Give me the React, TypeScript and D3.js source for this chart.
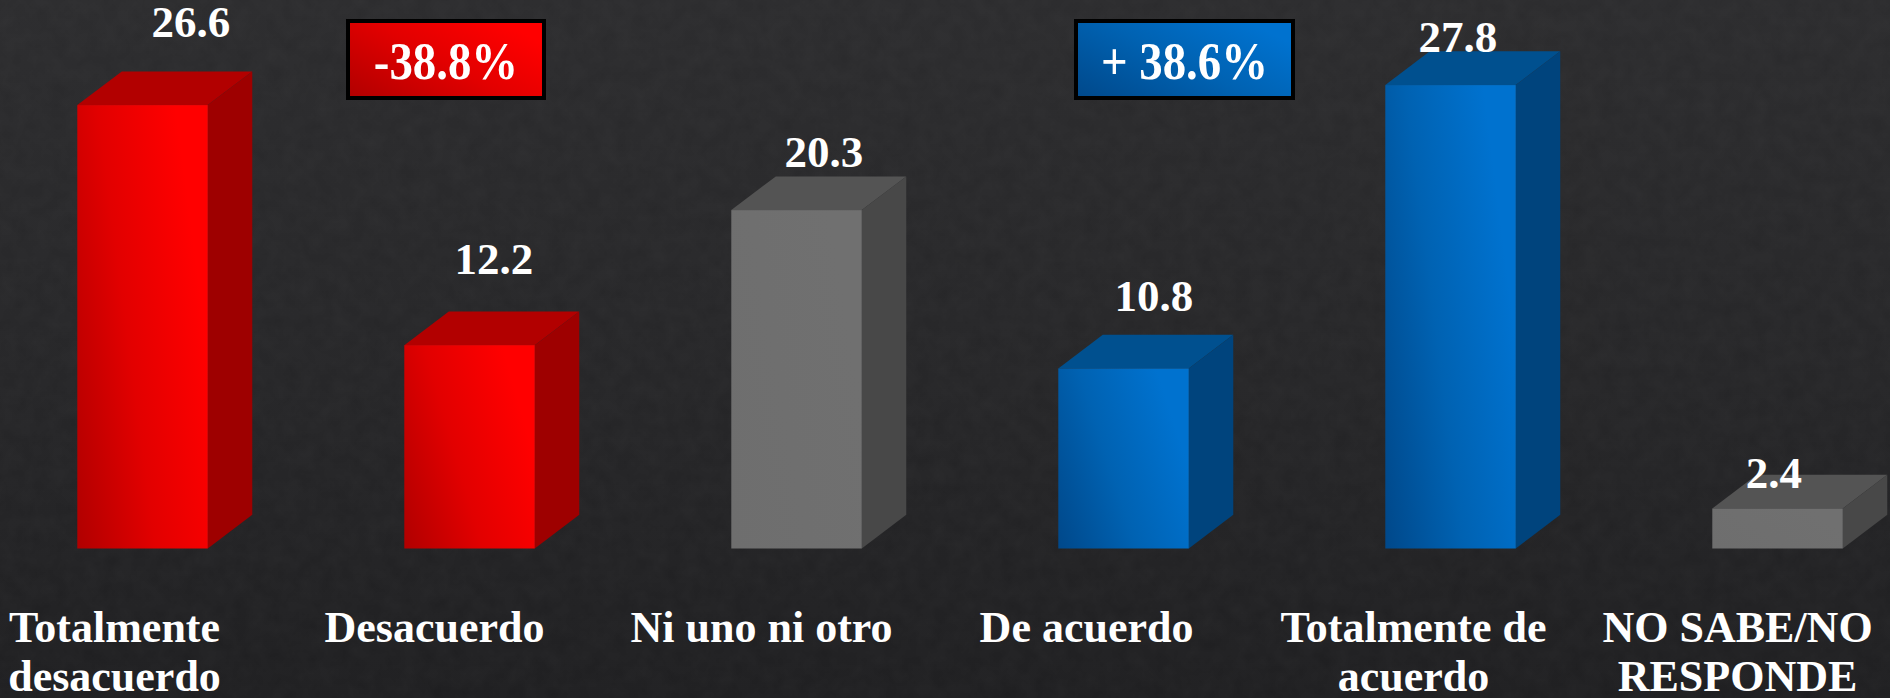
import React from "react";
import * as d3 from "d3";

// ---------- data ----------
const categories = [
  "Totalmente desacuerdo",
  "Desacuerdo",
  "Ni uno ni otro",
  "De acuerdo",
  "Totalmente de acuerdo",
  "NO SABE/NO RESPONDE",
];
const categoryLines = [
  ["Totalmente", "desacuerdo"],
  ["Desacuerdo"],
  ["Ni uno ni otro"],
  ["De acuerdo"],
  ["Totalmente de", "acuerdo"],
  ["NO SABE/NO", "RESPONDE"],
];
const values = [26.6, 12.2, 20.3, 10.8, 27.8, 2.4];
const groups = ["neg", "neg", "neu", "pos", "pos", "neu"];
const changeLabels = ["-38.8%", "+ 38.6%"];
const changeGroups = ["neg", "pos"];

// ---------- layout / style ----------
const W = 1890;
const H = 698;
const BASE_Y = 548.5;
const DEPTH_X = 44.5;
const DEPTH_Y = 33.7;
const valueLabelDx = [26, 2, 5, 8, -15, -26];
const valueLabelDy = [-34, -37, -9, -24, 1, 13];
const catLabelDx = [-28, -35, -35, -37, -37, -40];
const boxes = [
  { x: 346, y: 19, w: 200, h: 81 },
  { x: 1074, y: 19, w: 221, h: 81 },
];

const palette: Record<string, { top: string; side: string; a: string; b: string; c: string }> = {
  neg: { top: "#b20000", side: "#9e0000", a: "#b00000", b: "#e20000", c: "#ff0000" },
  pos: { top: "#00508f", side: "#00447d", a: "#00488a", b: "#0062b2", c: "#0072cf" },
  neu: { top: "#545454", side: "#484848", a: "#6e6e6e", b: "#6f6f6f", c: "#707070" },
};

const FONT = "'Liberation Serif', 'Times New Roman', serif";

export default function App() {
  const x = d3
    .scaleBand<string>()
    .domain(categories)
    .range([77.3, 77.3 + 327 * (6 - 0.601)])
    .paddingInner(0.601)
    .paddingOuter(0);
  const y = d3.scaleLinear().domain([0, 30]).range([BASE_Y, BASE_Y - 30 * 16.67]);
  const bw = x.bandwidth();

  const pathGen = (pts: [number, number][]) => d3.line()(pts) + "Z";

  return (
    <svg
      width={W}
      height={H}
      style={{ position: "absolute", left: 0, top: 0, display: "block" }}
    >
      <defs>
        <linearGradient id="bg" x1="0" y1="0" x2="0" y2="1">
          <stop offset="0" stopColor="#2b2b2d" />
          <stop offset="0.55" stopColor="#252527" />
          <stop offset="1" stopColor="#1e1e20" />
        </linearGradient>
        <filter id="noise" x="0" y="0" width="100%" height="100%">
          <feTurbulence type="fractalNoise" baseFrequency="0.06" numOctaves="3" seed="3" />
          <feColorMatrix
            type="matrix"
            values="0 0 0 0 0.45  0 0 0 0 0.45  0 0 0 0 0.45  0 0 0 0.05 0"
          />
        </filter>
        {Object.keys(palette).map((k) => (
          <linearGradient key={k} id={`front-${k}`} x1="0" y1="1" x2="1" y2="0.55">
            <stop offset="0" stopColor={palette[k].a} />
            <stop offset="0.5" stopColor={palette[k].b} />
            <stop offset="1" stopColor={palette[k].c} />
          </linearGradient>
        ))}
        {Object.keys(palette).map((k) => (
          <linearGradient key={k} id={`box-${k}`} x1="0" y1="1" x2="1" y2="0.3">
            <stop offset="0" stopColor={palette[k].a} />
            <stop offset="0.55" stopColor={palette[k].b} />
            <stop offset="1" stopColor={palette[k].c} />
          </linearGradient>
        ))}
      </defs>

      <rect x={0} y={0} width={W} height={H} fill="url(#bg)" />
      <rect x={0} y={0} width={W} height={H} filter="url(#noise)" />

      {/* bars */}
      {categories.map((c, i) => {
        const x0 = x(c)!;
        const x1 = x0 + bw;
        const yt = y(values[i]);
        const yb = y(0);
        const p = palette[groups[i]];
        return (
          <g key={c}>
            <path
              d={pathGen([
                [x0, yt],
                [x0 + DEPTH_X, yt - DEPTH_Y],
                [x1 + DEPTH_X, yt - DEPTH_Y],
                [x1, yt],
              ])}
              fill={p.top}
            />
            <path
              d={pathGen([
                [x1, yt],
                [x1 + DEPTH_X, yt - DEPTH_Y],
                [x1 + DEPTH_X, yb - DEPTH_Y],
                [x1, yb],
              ])}
              fill={p.side}
            />
            <rect x={x0} y={yt} width={bw} height={yb - yt} fill={`url(#front-${groups[i]})`} />
          </g>
        );
      })}

      {/* value labels */}
      {categories.map((c, i) => {
        const cx = x(c)! + (bw + DEPTH_X) / 2 + valueLabelDx[i];
        const by = y(values[i]) - DEPTH_Y + valueLabelDy[i];
        return (
          <text
            key={c}
            x={cx}
            y={by}
            textAnchor="middle"
            fontFamily={FONT}
            fontWeight="bold"
            fontSize={45}
            fill="#ffffff"
          >
            {values[i].toFixed(1)}
          </text>
        );
      })}

      {/* category labels */}
      {categories.map((c, i) => {
        const cx = x(c)! + bw / 2 + catLabelDx[i];
        return (
          <text
            key={c}
            textAnchor="middle"
            fontFamily={FONT}
            fontWeight="bold"
            fontSize={44}
            fill="#ffffff"
          >
            {categoryLines[i].map((ln, j) => (
              <tspan key={j} x={cx} y={642 + j * 49}>
                {ln}
              </tspan>
            ))}
          </text>
        );
      })}

      {/* change boxes */}
      {changeLabels.map((t, i) => {
        const b = boxes[i];
        const g = changeGroups[i];
        return (
          <g key={t}>
            <rect
              x={b.x + 2}
              y={b.y + 2}
              width={b.w - 4}
              height={b.h - 4}
              fill={`url(#box-${g})`}
              stroke="#000"
              strokeWidth={4}
            />
            <text
              x={b.x + b.w / 2}
              y={b.y + 60}
              textAnchor="middle"
              fontFamily={FONT}
              fontWeight="bold"
              fontSize={52}
              fill="#ffffff"
              transform={`translate(${b.x + b.w / 2},0) scale(0.9,1) translate(${-(b.x + b.w / 2)},0)`}
            >
              {t}
            </text>
          </g>
        );
      })}
    </svg>
  );
}
